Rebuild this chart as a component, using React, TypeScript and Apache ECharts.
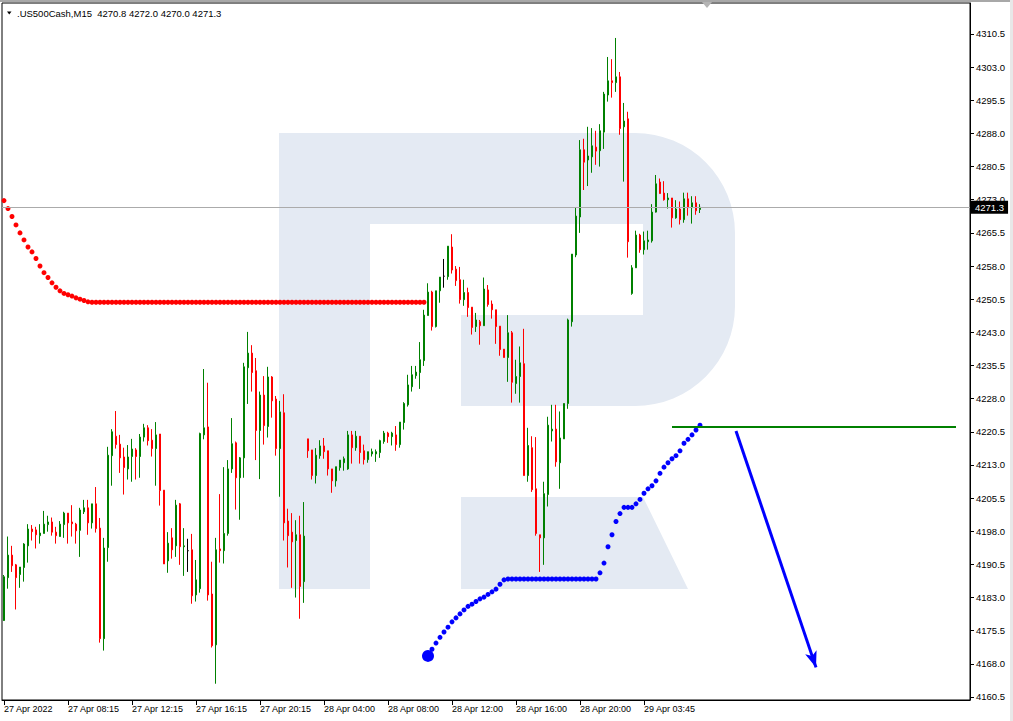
import React, { useEffect, useRef } from "react";
import * as echarts from "echarts";

const FONT = '"Liberation Sans", Arial, sans-serif';

// [open, high, low, close] per 15-minute bar
const ohlc: number[][] = [
  [4177.8, 4188.1, 4177.7, 4187.7], [4187.5, 4196.8, 4185.0, 4192.6], [4192.6, 4194.7, 4188.8, 4190.2], [4190.4, 4190.6, 4180.3, 4187.5],
  [4188.2, 4189.9, 4185.2, 4189.9], [4189.8, 4195.3, 4186.6, 4195.1], [4194.7, 4199.6, 4190.9, 4198.5], [4198.5, 4199.4, 4195.9, 4197.9],
  [4198.3, 4199.0, 4194.1, 4197.2], [4197.0, 4199.6, 4195.2, 4197.6], [4197.5, 4202.6, 4197.5, 4199.6], [4199.5, 4201.5, 4197.9, 4200.1],
  [4200.1, 4201.1, 4197.0, 4197.8], [4197.8, 4199.0, 4195.2, 4197.0], [4196.8, 4200.3, 4196.8, 4199.6], [4199.5, 4202.4, 4196.5, 4202.1],
  [4202.1, 4202.1, 4195.2, 4199.9], [4200.1, 4203.9, 4196.8, 4199.7], [4199.6, 4199.9, 4195.2, 4198.1], [4198.2, 4203.3, 4192.2, 4202.8],
  [4202.4, 4205.1, 4201.9, 4203.3], [4203.3, 4205.1, 4197.2, 4199.9], [4199.9, 4204.2, 4198.6, 4204.2], [4204.2, 4208.0, 4197.7, 4198.6],
  [4198.7, 4201.0, 4172.8, 4173.7], [4173.7, 4196.5, 4171.0, 4194.2], [4194.3, 4217.1, 4191.1, 4215.2], [4215.1, 4221.1, 4208.3, 4220.5],
  [4219.5, 4225.2, 4216.7, 4217.6], [4217.7, 4219.8, 4211.2, 4214.6], [4214.8, 4216.9, 4206.3, 4212.4], [4212.1, 4217.5, 4209.7, 4214.8],
  [4214.9, 4218.9, 4209.2, 4216.6], [4216.4, 4216.8, 4209.7, 4214.9], [4214.9, 4220.0, 4210.1, 4219.3], [4219.3, 4222.3, 4218.3, 4221.4],
  [4221.4, 4222.0, 4217.4, 4218.5], [4218.6, 4221.1, 4214.9, 4216.7], [4216.7, 4222.7, 4208.3, 4219.8], [4220.0, 4220.0, 4203.8, 4207.2],
  [4207.3, 4207.3, 4190.6, 4190.6], [4191.3, 4197.8, 4188.6, 4195.3], [4196.5, 4198.7, 4191.8, 4193.8], [4194.7, 4205.1, 4192.2, 4203.9],
  [4204.2, 4204.4, 4190.4, 4194.5], [4194.5, 4198.7, 4187.9, 4194.7], [4193.6, 4196.3, 4188.8, 4193.6], [4193.8, 4197.4, 4181.6, 4183.4],
  [4183.6, 4191.5, 4182.1, 4187.0], [4185.0, 4220.3, 4184.1, 4220.1], [4219.8, 4234.7, 4218.8, 4221.4], [4221.6, 4231.6, 4182.3, 4183.6],
  [4183.8, 4191.1, 4171.7, 4172.1], [4172.3, 4196.5, 4163.5, 4193.8], [4194.0, 4206.4, 4190.9, 4193.6], [4193.6, 4212.5, 4190.7, 4197.5],
  [4197.5, 4214.1, 4197.0, 4212.1], [4212.1, 4223.6, 4211.2, 4217.8], [4218.0, 4218.3, 4202.9, 4210.1], [4210.1, 4214.8, 4200.6, 4214.6],
  [4214.6, 4236.1, 4210.1, 4235.2], [4235.0, 4243.1, 4226.8, 4238.3], [4238.3, 4240.1, 4229.6, 4233.9], [4234.3, 4237.2, 4214.1, 4220.8],
  [4220.8, 4229.6, 4209.8, 4228.8], [4228.8, 4233.1, 4217.6, 4221.9], [4221.7, 4235.2, 4219.2, 4232.9], [4232.9, 4233.1, 4223.7, 4227.5],
  [4227.9, 4228.6, 4215.1, 4216.7], [4216.7, 4227.5, 4205.8, 4225.0], [4224.8, 4229.0, 4195.9, 4199.9], [4200.3, 4203.1, 4189.8, 4197.0],
  [4197.8, 4202.1, 4185.2, 4195.6], [4195.9, 4200.5, 4183.0, 4197.2], [4197.2, 4201.5, 4178.2, 4185.5], [4186.6, 4204.6, 4181.8, 4196.9],
  [4218.9, 4218.9, 4214.6, 4216.2], [4216.4, 4216.4, 4209.7, 4210.6], [4210.6, 4216.8, 4208.8, 4215.2], [4215.1, 4218.6, 4214.4, 4217.3],
  [4217.3, 4219.1, 4214.4, 4216.0], [4216.2, 4216.2, 4210.6, 4212.1], [4212.1, 4212.1, 4206.7, 4209.4], [4209.4, 4212.6, 4208.1, 4212.6],
  [4212.4, 4214.1, 4211.7, 4214.1], [4213.5, 4214.9, 4211.7, 4214.4], [4212.1, 4220.7, 4211.9, 4219.8], [4219.8, 4220.7, 4213.3, 4216.9],
  [4216.9, 4220.7, 4216.2, 4219.5], [4219.5, 4219.5, 4213.3, 4215.8], [4216.2, 4217.6, 4213.1, 4214.2], [4214.2, 4216.0, 4213.5, 4216.0],
  [4215.5, 4216.7, 4214.9, 4216.0], [4215.5, 4216.5, 4213.7, 4216.0], [4215.8, 4218.7, 4214.6, 4218.5], [4218.3, 4220.7, 4217.8, 4220.2],
  [4220.2, 4220.5, 4218.0, 4219.4], [4219.4, 4220.5, 4217.4, 4220.2], [4219.8, 4221.8, 4216.2, 4217.6], [4217.6, 4222.7, 4216.9, 4222.7],
  [4222.6, 4227.2, 4221.0, 4226.9], [4226.6, 4233.4, 4226.2, 4231.1], [4230.7, 4235.4, 4229.6, 4233.4], [4233.2, 4235.4, 4232.5, 4234.0],
  [4233.9, 4240.8, 4230.2, 4236.8], [4236.6, 4248.1, 4235.4, 4246.9], [4246.8, 4254.1, 4246.8, 4252.1], [4252.1, 4252.4, 4243.4, 4244.3],
  [4244.3, 4252.4, 4244.1, 4252.4], [4252.4, 4255.5, 4249.7, 4255.5], [4255.7, 4259.6, 4253.1, 4255.7], [4255.6, 4262.5, 4254.9, 4262.5],
  [4262.3, 4265.2, 4256.3, 4257.1], [4257.3, 4258.0, 4253.5, 4254.7], [4254.9, 4257.8, 4249.5, 4250.4], [4250.4, 4254.9, 4249.0, 4252.0],
  [4252.0, 4253.1, 4246.5, 4248.6], [4248.7, 4248.7, 4242.5, 4244.1], [4244.3, 4247.4, 4243.1, 4245.8], [4245.4, 4245.8, 4240.2, 4244.5],
  [4244.5, 4255.4, 4244.5, 4252.8], [4252.6, 4253.7, 4248.8, 4249.3], [4249.4, 4250.2, 4246.1, 4248.1], [4248.1, 4248.1, 4240.4, 4244.3],
  [4244.4, 4244.4, 4237.7, 4239.1], [4239.2, 4239.2, 4237.3, 4237.3], [4237.3, 4246.9, 4231.8, 4242.9], [4242.9, 4243.3, 4227.1, 4231.7],
  [4231.4, 4236.8, 4229.1, 4233.0], [4233.0, 4239.8, 4227.1, 4236.1], [4235.9, 4243.8, 4210.6, 4210.6], [4210.6, 4221.4, 4209.2, 4217.4],
  [4216.9, 4219.5, 4206.9, 4207.4], [4207.6, 4219.3, 4197.0, 4197.5], [4197.2, 4197.2, 4188.8, 4196.5], [4196.5, 4209.2, 4190.4, 4206.5],
  [4206.3, 4223.9, 4203.6, 4222.0], [4220.7, 4226.6, 4218.3, 4221.1], [4221.1, 4226.6, 4212.6, 4213.7], [4213.5, 4225.1, 4207.6, 4219.1],
  [4218.9, 4226.9, 4218.9, 4226.9], [4226.9, 4246.1, 4225.7, 4245.8], [4245.4, 4260.7, 4244.3, 4260.7], [4260.5, 4271.3, 4260.0, 4269.3],
  [4269.1, 4286.5, 4265.5, 4284.3], [4284.3, 4286.8, 4275.2, 4281.5], [4282.0, 4289.5, 4276.1, 4282.9], [4282.7, 4289.2, 4279.1, 4285.2],
  [4284.9, 4288.6, 4280.9, 4284.0], [4284.1, 4290.1, 4280.5, 4288.6], [4288.3, 4297.4, 4284.5, 4296.9], [4296.7, 4305.3, 4295.2, 4299.9],
  [4299.9, 4304.8, 4296.1, 4299.5], [4299.5, 4309.6, 4297.4, 4300.8], [4300.8, 4301.9, 4287.7, 4289.1], [4289.5, 4294.9, 4277.1, 4290.8],
  [4291.3, 4292.9, 4259.9, 4263.5], [4251.8, 4258.2, 4251.5, 4257.6], [4257.6, 4266.0, 4257.6, 4265.0], [4265.0, 4265.3, 4261.0, 4261.7],
  [4261.7, 4265.8, 4260.6, 4263.7], [4263.5, 4266.0, 4261.7, 4263.9], [4263.7, 4272.0, 4263.3, 4270.2], [4270.2, 4278.6, 4270.1, 4276.6],
  [4277.0, 4277.8, 4274.4, 4274.4], [4274.5, 4277.2, 4272.8, 4273.0], [4273.0, 4274.5, 4271.0, 4273.4], [4273.4, 4273.4, 4266.7, 4268.9],
  [4268.9, 4272.9, 4268.7, 4270.9], [4270.9, 4272.6, 4267.4, 4268.5], [4268.5, 4274.6, 4267.8, 4273.2], [4273.2, 4274.6, 4269.4, 4271.2],
  [4271.2, 4273.8, 4267.6, 4272.3], [4272.3, 4273.8, 4269.6, 4270.5], [4270.8, 4272.0, 4270.0, 4271.3],
];

// Parabolic SAR dots (red: bars 0..105, blue: bars 106..174)
const sarRed: number[] = [
  4272.8, 4271.0, 4269.2, 4267.3, 4265.5, 4263.9, 4262.3, 4261.2, 4259.7, 4258.0, 4256.5, 4255.4,
  4254.2, 4253.2, 4252.4, 4251.8, 4251.5, 4251.2, 4250.8, 4250.5, 4250.2, 4249.9,
  4249.8, 4249.8, 4249.8, 4249.8, 4249.8, 4249.8, 4249.8, 4249.8, 4249.8, 4249.8, 4249.8, 4249.8,
  4249.8, 4249.8, 4249.8, 4249.8, 4249.8, 4249.8, 4249.8, 4249.8, 4249.8, 4249.8, 4249.8, 4249.8,
  4249.8, 4249.8, 4249.8, 4249.8, 4249.8, 4249.8, 4249.8, 4249.8, 4249.8, 4249.8, 4249.8, 4249.8,
  4249.8, 4249.8, 4249.8, 4249.8, 4249.8, 4249.8, 4249.8, 4249.8, 4249.8, 4249.8, 4249.8, 4249.8,
  4249.8, 4249.8, 4249.8, 4249.8, 4249.8, 4249.8, 4249.8, 4249.8, 4249.8, 4249.8, 4249.8, 4249.8,
  4249.8, 4249.8, 4249.8, 4249.8, 4249.8, 4249.8, 4249.8, 4249.8, 4249.8, 4249.8, 4249.8, 4249.8,
  4249.8, 4249.8, 4249.8, 4249.8, 4249.8, 4249.8, 4249.8, 4249.8, 4249.8, 4249.8, 4249.8, 4249.8,
];
const blueStart = 106;
const sarBlue: number[] = [
  4169.8, 4171.3, 4172.7, 4174.0, 4175.2, 4176.3, 4177.5, 4178.4, 4179.3, 4180.2,
  4181.0, 4181.5, 4182.1, 4182.7, 4183.1, 4183.7, 4184.3, 4184.9, 4186.0, 4187.0,
  4187.2, 4187.2, 4187.2, 4187.2, 4187.2, 4187.2, 4187.2, 4187.2, 4187.2, 4187.2, 4187.2, 4187.2,
  4187.2, 4187.2, 4187.2, 4187.2, 4187.2, 4187.2, 4187.2, 4187.2, 4187.2, 4187.2, 4187.2,
  4188.6, 4190.8, 4194.5, 4197.2, 4200.2, 4202.0, 4203.4, 4203.4, 4203.4, 4204.2, 4205.2, 4206.6,
  4207.6, 4208.3, 4209.4, 4211.1, 4212.5, 4213.5, 4214.4, 4215.1, 4216.2, 4217.9, 4218.8, 4219.8,
  4220.9, 4222.0,
];

// Horizontal level and forecast arrow (bar index, price)
const levelLine: number[][] = [[167, 4221.6], [238, 4221.6]];
const arrowFrom = [183, 4220.7];
const arrowTo = [203, 4167.2];
const lastPrice = 4271.3;

// Axes
const slotCount = 242;
const timeLabelIndex = [0, 16, 32, 48, 64, 80, 96, 112, 128, 144, 160];
const timeLabels = [
  "27 Apr 2022", "27 Apr 08:15", "27 Apr 12:15", "27 Apr 16:15", "27 Apr 20:15",
  "28 Apr 04:00", "28 Apr 08:00", "28 Apr 12:00", "28 Apr 16:00", "28 Apr 20:00", "29 Apr 03:45",
];
const yTicks = [
  4160.5, 4168.0, 4175.5, 4183.0, 4190.5, 4198.0, 4205.5, 4213.0, 4220.5, 4228.0, 4235.5,
  4243.0, 4250.5, 4258.0, 4265.5, 4273.0, 4280.5, 4288.0, 4295.5, 4303.0, 4310.5,
];
const yMin = 4159.82;
const yMax = 4317.51;

const LOGO_D =
  "M279 133 H635 A100 100 0 0 1 735 233 V306 A100 100 0 0 1 635 406 H461 V315 H643 V224 H370 V589 H279 Z " +
  "M461 497 H643 L688 589 H461 Z";

export default function App() {
  const ref = useRef<HTMLDivElement>(null);

  useEffect(() => {
    if (!ref.current) return;
    echarts.graphic.registerShape("rfLogo", echarts.graphic.extendPath(LOGO_D, {}));
    const chart = echarts.init(ref.current, null, { renderer: "svg" });

    const categories = Array.from({ length: slotCount }, (_, i) => String(i));
    const labelAt = new Map<number, string>();
    timeLabelIndex.forEach((idx, k) => labelAt.set(idx, timeLabels[k]));
    const showIdx = (index: number) => labelAt.has(index);

    const last = ohlc[ohlc.length - 1];
    const title = `.US500Cash,M15  ${last[0].toFixed(1)} ${last[1].toFixed(1)} ${last[2].toFixed(1)} ${last[3].toFixed(1)}`;

    const option: any = {
      animation: false,
      backgroundColor: "#ffffff",
      grid: {
        left: 2, top: 3, right: 43, bottom: 21,
        show: true, borderColor: "#000", borderWidth: 1, backgroundColor: "transparent",
      },
      xAxis: {
        type: "category",
        data: categories,
        boundaryGap: true,
        axisLine: { show: true, lineStyle: { color: "#000", width: 1 } },
        axisTick: { show: true, alignWithLabel: true, interval: showIdx, length: 5, lineStyle: { color: "#000" } },
        axisLabel: {
          interval: showIdx,
          formatter: (_v: string, index: number) => labelAt.get(index) || "",
          align: "left",
          margin: 4,
          fontSize: 9,
          fontFamily: FONT,
          color: "#000",
        },
        splitLine: { show: false },
      },
      yAxis: {
        type: "value",
        position: "right",
        min: yMin,
        max: yMax,
        axisLine: { show: true, lineStyle: { color: "#000", width: 1 } },
        axisTick: { show: true, length: 4, customValues: yTicks, lineStyle: { color: "#000" } },
        axisLabel: {
          customValues: yTicks,
          formatter: (v: number) => v.toFixed(1),
          margin: 6,
          fontSize: 9.5,
          fontFamily: FONT,
          color: "#000",
        },
        splitLine: { show: false },
      },
      graphic: [
        { type: "rfLogo", x: 0, y: 0, z: -1, silent: true, style: { fill: "#e4eaf3" } },
        { type: "rect", shape: { x: 0, y: 0, width: 1013, height: 2 }, style: { fill: "#a8a8a8" }, silent: true },
        { type: "rect", shape: { x: 1010, y: 0, width: 3, height: 721 }, style: { fill: "#e8e8e8" }, silent: true },
        { type: "polygon", shape: { points: [[702, 2], [712, 2], [707, 8]] }, style: { fill: "#b4b4b4" }, silent: true },
        { type: "polygon", shape: { points: [[7, 11.5], [11.5, 11.5], [9.25, 14.5]] }, style: { fill: "#000" }, silent: true },
        {
          type: "text", x: 17, y: 13.5, silent: true,
          style: { text: title, fontSize: 9.5, fontFamily: FONT, fill: "#000", verticalAlign: "middle", align: "left" },
        },
      ],
      series: [
        {
          type: "scatter",
          name: "sarRed",
          data: sarRed.map((v, i) => [i, v]),
          symbol: "circle",
          symbolSize: 5,
          itemStyle: { color: "#ff0000", opacity: 1 },
          silent: true,
          z: 2,
        },
        {
          type: "scatter",
          name: "sarBlue",
          data: sarBlue.map((v, k) => [blueStart + k, v]),
          symbol: "circle",
          symbolSize: 5,
          itemStyle: { color: "#0000ff", opacity: 1 },
          silent: true,
          z: 2,
        },
        {
          type: "scatter",
          name: "sarStart",
          data: [[blueStart, sarBlue[0]]],
          symbol: "circle",
          symbolSize: 12,
          itemStyle: { color: "#0000ff", opacity: 1 },
          silent: true,
          z: 2,
        },
        {
          type: "candlestick",
          data: ohlc.map(([o, h, l, c]) => [o, c, l, h]),
          barWidth: 2,
          itemStyle: {
            color: "#008000", color0: "#ff0000",
            borderColor: "#008000", borderColor0: "#ff0000", borderColorDoji: "#000000",
            borderWidth: 1,
          },
          silent: true,
          z: 3,
          markLine: {
            silent: true,
            symbol: ["none", "none"],
            lineStyle: { color: "#ababab", width: 1, type: "solid" },
            label: {
              show: true,
              position: "end",
              distance: 1,
              formatter: lastPrice.toFixed(1),
              color: "#ffffff",
              backgroundColor: "#000000",
              padding: [2, 4, 1, 4],
              fontSize: 9.5,
              fontFamily: FONT,
            },
            data: [{ yAxis: lastPrice }],
          },
        },
        {
          type: "line",
          name: "level",
          data: levelLine,
          symbol: "none",
          lineStyle: { color: "#008000", width: 2 },
          silent: true,
          z: 4,
        },
        {
          type: "line",
          name: "arrow",
          data: [],
          silent: true,
          z: 4,
          markLine: {
            silent: true,
            symbol: ["none", "arrow"],
            symbolSize: [0, 12],
            lineStyle: { color: "#0000ff", width: 3, type: "solid" },
            label: { show: false },
            data: [[
              { coord: arrowFrom, symbol: "none" },
              { coord: arrowTo, symbol: "arrow", symbolSize: [9, 16] },
            ]],
          },
        },
      ],
    };
    chart.setOption(option);
    return () => chart.dispose();
  }, []);

  return (
    <div
      ref={ref}
      style={{ position: "fixed", left: 0, top: 0, width: 1013, height: 721, background: "#fff" }}
    />
  );
}
